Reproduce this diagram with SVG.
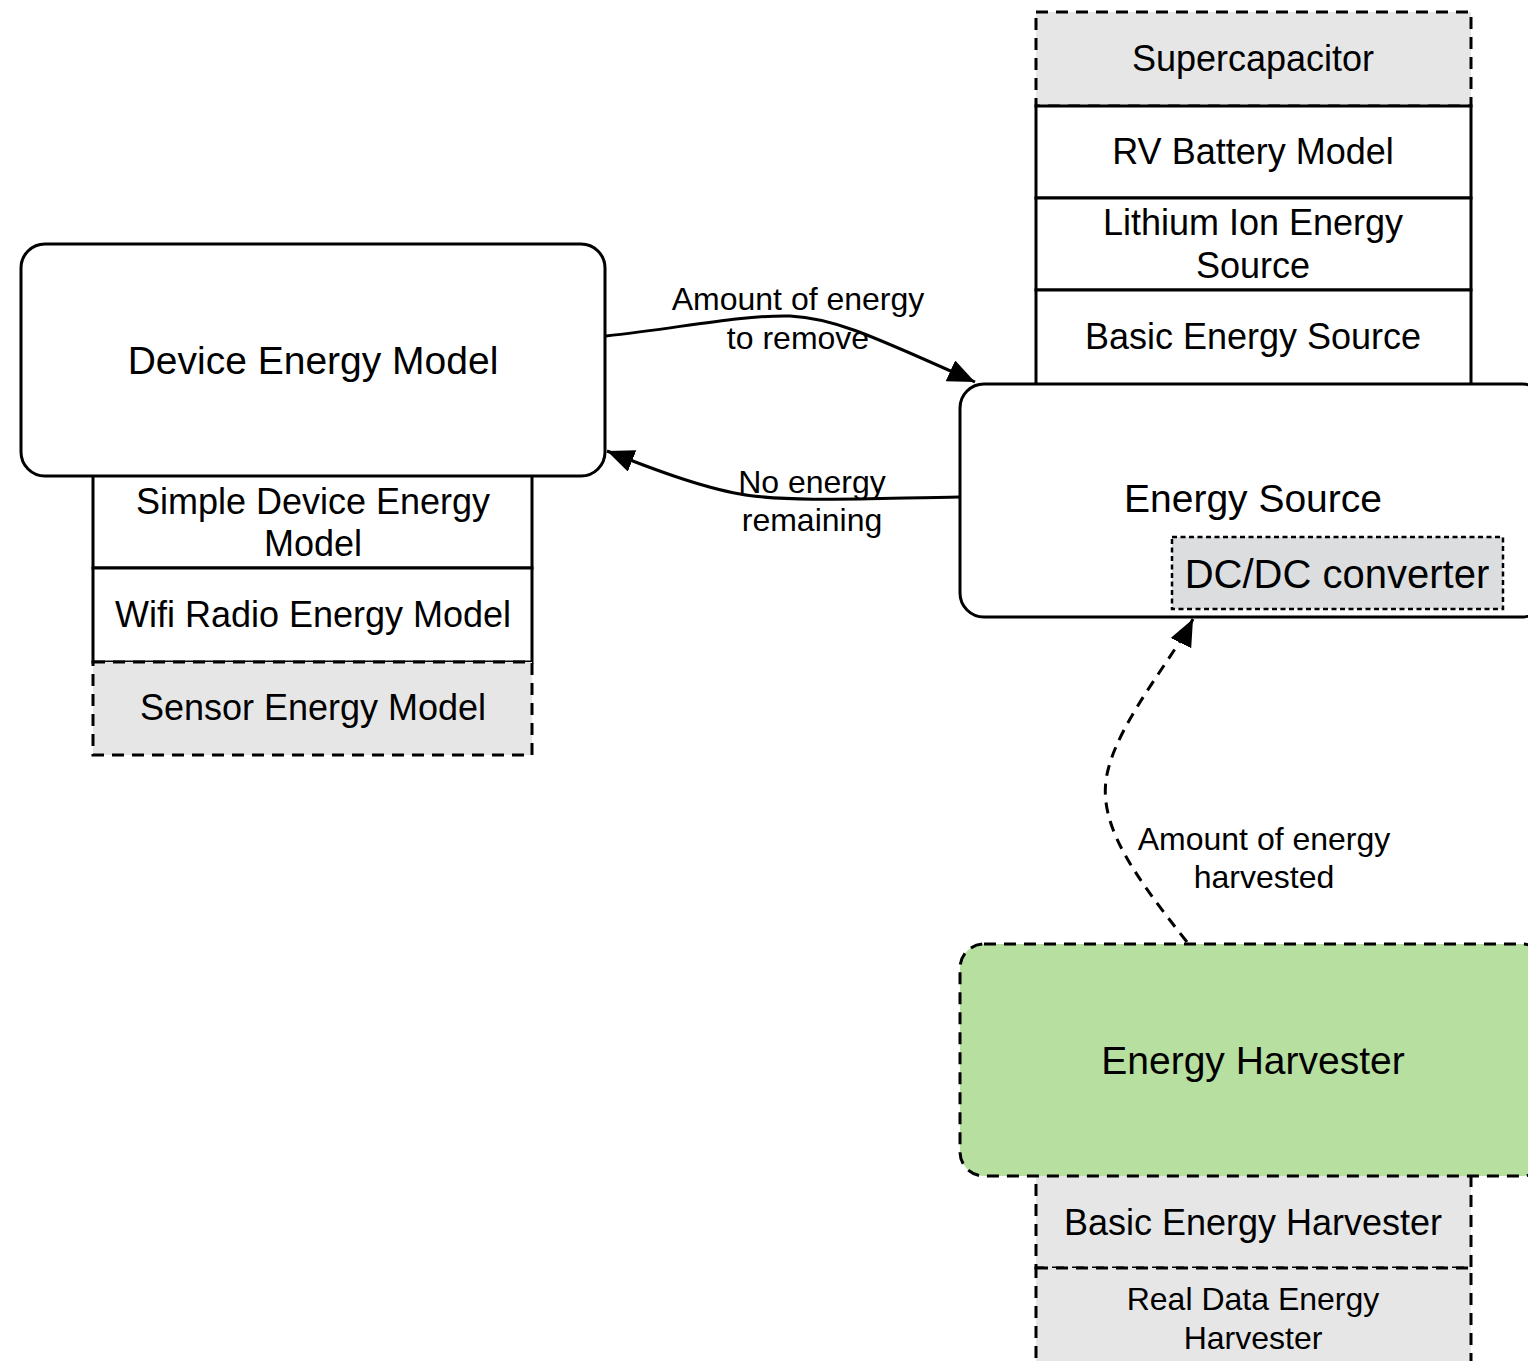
<svg xmlns="http://www.w3.org/2000/svg" width="1528" height="1361" viewBox="0 0 1528 1361">
  <style>
    text { font-family: "Liberation Sans", Arial, Helvetica, sans-serif; fill: #000; text-anchor: middle; }
    .main { font-size: 39px; }
    .item { font-size: 36px; }
    .small { font-size: 32px; }
    .lbl { font-size: 32px; }
    .box { stroke: #000; stroke-width: 3; }
    .plain { fill: #fff; }
    .grey { fill: #e5e6e5; }
    .dash { stroke-dasharray: 12 8; }
    .edge { fill: none; stroke: #000; stroke-width: 3; }
  </style>
  <defs>
    <marker id="arrow" markerUnits="userSpaceOnUse" markerWidth="30" markerHeight="26" refX="27" refY="11.5" orient="auto">
      <path d="M0,0 L27,11.5 L0,23 Z" fill="#000"/>
    </marker>
  </defs>

  <rect width="1528" height="1361" fill="#fff"/>

  <!-- energy source implementations -->
  <g id="supercapacitor">
    <rect class="box grey dash" x="1036" y="12" width="435" height="94"/>
    <text class="item" x="1253" y="71">Supercapacitor</text>
  </g>
  <g id="rv-battery">
    <rect class="box plain" x="1036" y="106" width="435" height="92"/>
    <text class="item" x="1253" y="164">RV Battery Model</text>
  </g>
  <g id="lithium-ion">
    <rect class="box plain" x="1036" y="198" width="435" height="92"/>
    <text class="item" x="1253" y="235">Lithium Ion Energy</text>
    <text class="item" x="1253" y="278">Source</text>
  </g>
  <g id="basic-source">
    <rect class="box plain" x="1036" y="290" width="435" height="100"/>
    <text class="item" x="1253" y="349">Basic Energy Source</text>
  </g>

  <!-- device energy model implementations -->
  <g id="simple-device">
    <rect class="box plain" x="93" y="470" width="439" height="98"/>
    <text class="item" x="313" y="514">Simple Device Energy</text>
    <text class="item" x="313" y="556">Model</text>
  </g>
  <g id="wifi-radio">
    <rect class="box plain" x="93" y="568" width="439" height="94"/>
    <text class="item" x="313" y="627">Wifi Radio Energy Model</text>
  </g>
  <g id="sensor">
    <rect class="box grey dash" x="93" y="662" width="439" height="93"/>
    <text class="item" x="313" y="720">Sensor Energy Model</text>
  </g>

  <!-- energy harvester implementations -->
  <g id="basic-harvester">
    <rect class="box grey dash" x="1036" y="1170" width="435" height="98"/>
    <text class="item" x="1253" y="1235">Basic Energy Harvester</text>
  </g>
  <g id="real-data-harvester">
    <rect class="box grey dash" x="1036" y="1268" width="435" height="110"/>
    <text class="small" x="1253" y="1310">Real Data Energy</text>
    <text class="small" x="1253" y="1349">Harvester</text>
  </g>

  <!-- main components -->
  <g id="device-energy-model">
    <rect class="box plain" x="21" y="244" width="584" height="232" rx="24"/>
    <text class="main" x="313" y="374">Device Energy Model</text>
  </g>
  <g id="energy-source">
    <rect class="box plain" x="960" y="384" width="586" height="233" rx="24"/>
    <text class="main" x="1253" y="512">Energy Source</text>
    <g id="dcdc-converter">
      <rect x="1172" y="537" width="331" height="72" fill="#dcdddf" stroke="#000" stroke-width="2.5" stroke-dasharray="5 3.5"/>
      <text x="1337" y="588" style="font-size:40px">DC/DC converter</text>
    </g>
  </g>
  <g id="energy-harvester">
    <rect class="box dash" x="960" y="944" width="586" height="232" rx="24" fill="#b7dfa0"/>
    <text class="main" x="1253" y="1074">Energy Harvester</text>
  </g>

  <!-- connectors -->
  <g id="connectors">
    <path class="edge" d="M 606 336 C 680 328, 740 315, 790 316 C 830 318, 860 330, 975 382" marker-end="url(#arrow)"/>
    <path class="edge" d="M 960 497 C 880 498, 790 503, 740 494 C 700 487, 650 468, 607 451" marker-end="url(#arrow)"/>
    <path class="edge" d="M 1187 942 C 1130 870, 1095 820, 1108 770 C 1120 720, 1175 655, 1193 619" stroke-dasharray="11 8" marker-end="url(#arrow)"/>
    <text class="lbl" x="798" y="310">Amount of energy</text>
    <text class="lbl" x="798" y="349">to remove</text>
    <text class="lbl" x="812" y="493">No energy</text>
    <text class="lbl" x="812" y="531">remaining</text>
    <text class="lbl" x="1264" y="850">Amount of energy</text>
    <text class="lbl" x="1264" y="888">harvested</text>
  </g>
</svg>
